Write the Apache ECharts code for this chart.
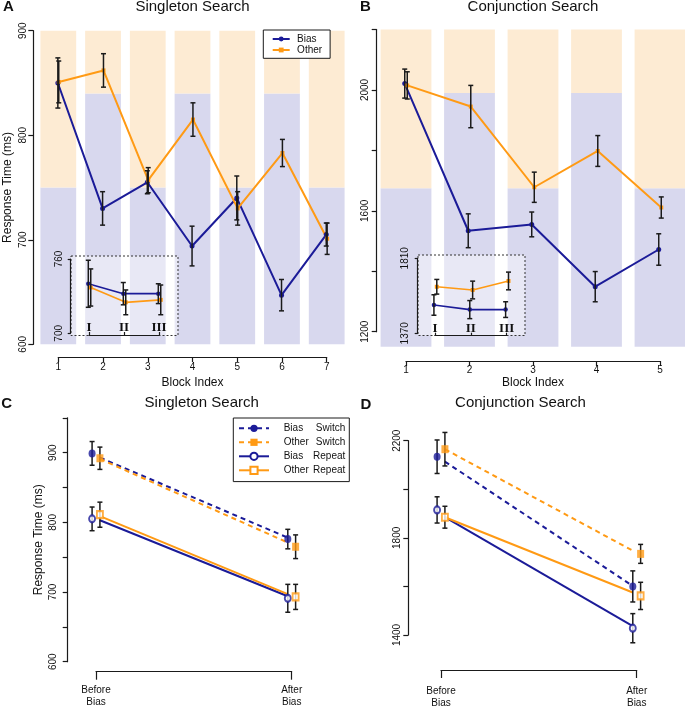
<!DOCTYPE html>
<html><head><meta charset="utf-8">
<script src="https://cdn.jsdelivr.net/npm/echarts@6/dist/echarts.min.js"></script>
<style>html,body{margin:0;padding:0;background:#fff}#c{width:685px;height:707px}</style>
</head><body><div id="c"></div>
<script>
// ================= DATA =================
// Panel A (Singleton Search, by block)
const blocksA = [1, 2, 3, 4, 5, 6, 7];
const biasA = [850, 730, 755, 694, 740, 647, 705];
const biasErrA = [24, 16, 11, 19, 21, 15, 11];
const otherA = [851, 862, 757, 815, 730, 783, 701];
const otherErrA = [20, 16, 12, 16, 16, 13, 15];
const blueTopA = [750, 840, 750, 840, 750, 840, 750];   // background split per block
const bandA = [600, 900];                                // background extent
const yLabelsA = [600, 700, 800, 900];
// Panel A inset
const insetCats = ['I', 'II', 'III'];
const insetBiasA = [740, 732, 732];
const insetBiasErrA = [19, 9, 8];
const insetOtherA = [737, 725, 727];
const insetOtherErrA = [15, 10, 12];
const insetTicksA = [700, 760];

// Panel B (Conjunction Search, by block)
const blocksB = [1, 2, 3, 4, 5];
const biasB = [2021, 1534, 1555, 1349, 1472];
const biasErrB = [48, 56, 41, 50, 52];
const otherB = [2015, 1945, 1678, 1798, 1611];
const otherErrB = [45, 70, 50, 51, 35];
const blueTopB = [1675, 1990, 1675, 1990, 1675];
const bandB = [1150, 2200];
const yLabelsB = [1200, 1600, 2000];
// Panel B inset
const insetBiasB = [1536, 1509, 1509];
const insetBiasErrB = [60, 53, 46];
const insetOtherB = [1643, 1624, 1677];
const insetOtherErrB = [43, 52, 52];
const insetTicksB = [1370, 1810];

// Panels C and D (Before / After bias)
const phases = ['Before\nBias', 'After\nBias'];
const conditions = ['Bias Switch', 'Other Switch', 'Bias Repeat', 'Other Repeat'];
// C: means, errors, fitted line ends
const biasSwitchC = [899, 776],  biasSwitchErrC = [17, 14],  biasSwitchLineC = [893, 778];
const otherSwitchC = [892, 765], otherSwitchErrC = [16, 17], otherSwitchLineC = [891, 771];
const biasRepeatC = [805, 691],  biasRepeatErrC = [17, 20],  biasRepeatLineC = [803, 694];
const otherRepeatC = [811, 693], otherRepeatErrC = [18, 18], otherRepeatLineC = [809, 697];
const yLabelsC = [600, 700, 800, 900];
// D
const biasSwitchD = [2134, 1600],  biasSwitchErrD = [69, 64],  biasSwitchLineD = [2114, 1602];
const otherSwitchD = [2165, 1734], otherSwitchErrD = [69, 39], otherSwitchLineD = [2165, 1747];
const biasRepeatD = [1915, 1428],  biasRepeatErrD = [54, 60],  biasRepeatLineD = [1885, 1437];
const otherRepeatD = [1885, 1561], otherRepeatErrD = [45, 56], otherRepeatLineD = [1885, 1575];
const yLabelsD = [1400, 1800, 2200];

// ================= STYLE =================
const FONT = '"Liberation Sans", Arial, Helvetica, sans-serif';
const SERIF = '"Liberation Serif", "DejaVu Serif", serif';
const BLUE = '#1b1b98', ORANGE = '#ff9a14', INK = '#1a1a1a';
const BG_BLUE = '#d8d8ee', BG_ORANGE = '#fdebd3';
const DASH = [5, 4];
const dodgeA = 0.01, dodgeB = 0.02, dodgeCD = 0.02;
const inDodgeA = [-0.02, 0.05], inDodgeB = [-0.03, 0.05];

// ================= HELPERS =================
function bgSeries(ax, xs, tops, band, w) {
  return {
    type: 'custom', xAxisIndex: ax, yAxisIndex: ax, z: 0, clip: false, silent: true,
    encode: { x: 0, y: 1 },
    data: xs.map((x, i) => [x, tops[i]]),
    renderItem: function (params, api) {
      const x = api.value(0), t = api.value(1);
      const bw = api.size([w, 0])[0];
      const lo = api.coord([x, band[0]]), mid = api.coord([x, t]), hi = api.coord([x, band[1]]);
      const left = lo[0] - bw / 2;
      return { type: 'group', children: [
        { type: 'rect', shape: { x: left, y: mid[1], width: bw, height: lo[1] - mid[1] }, style: { fill: BG_BLUE } },
        { type: 'rect', shape: { x: left, y: hi[1], width: bw, height: mid[1] - hi[1] }, style: { fill: BG_ORANGE } }
      ] };
    }
  };
}
function errSeries(ax, xs, vals, errs, z, cap, lw) {
  return {
    type: 'custom', xAxisIndex: ax, yAxisIndex: ax, z: z, clip: false, silent: true,
    encode: { x: 0, y: 1 },
    data: xs.map((x, i) => [x, vals[i], errs[i]]),
    renderItem: function (params, api) {
      const x = api.value(0), v = api.value(1), e = api.value(2);
      const t = api.coord([x, v + e]), b = api.coord([x, v - e]);
      const st = { stroke: INK, lineWidth: lw };
      return { type: 'group', children: [
        { type: 'line', shape: { x1: t[0], y1: t[1], x2: b[0], y2: b[1] }, style: st },
        { type: 'line', shape: { x1: t[0] - cap, y1: t[1], x2: t[0] + cap, y2: t[1] }, style: st },
        { type: 'line', shape: { x1: b[0] - cap, y1: b[1], x2: b[0] + cap, y2: b[1] }, style: st }
      ] };
    }
  };
}
function lineSeries(name, ax, xs, vals, color, symbol, size, width, type, z) {
  return {
    name: name, type: 'line', xAxisIndex: ax, yAxisIndex: ax, z: z || 2, clip: false,
    data: xs.map((x, i) => [x, vals[i]]),
    symbol: symbol, symbolSize: size, showSymbol: true, color: color,
    itemStyle: { color: color }, lineStyle: { color: color, width: width, type: type || 'solid' }
  };
}
const lbl = { fontFamily: FONT, fontSize: 10, color: '#111' };
function yAx(grid, min, max, interval, offset, margin, shown, extra) {
  return Object.assign({
    gridIndex: grid, type: 'value', min: min, max: max, interval: interval, offset: offset,
    axisLine: { show: true, onZero: false, lineStyle: { color: INK, width: 1.2 } },
    axisTick: { show: true, length: 5, lineStyle: { color: INK, width: 1.2 } },
    splitLine: { show: false },
    axisLabel: Object.assign({ rotate: 90, margin: margin, showMinLabel: true, showMaxLabel: true,
      formatter: v => (shown.indexOf(v) >= 0 ? String(v) : '') }, lbl)
  }, extra || {});
}
function xAx(grid, min, max, interval, offset, margin, fmt, extra) {
  return Object.assign({
    gridIndex: grid, type: 'value', min: min, max: max, interval: interval, offset: offset,
    axisLine: { show: true, onZero: false, lineStyle: { color: INK, width: 1.2 } },
    axisTick: { show: true, length: 5, lineStyle: { color: INK, width: 1.2 } },
    splitLine: { show: false },
    axisLabel: Object.assign({ margin: margin, showMinLabel: true, showMaxLabel: true, formatter: fmt }, lbl)
  }, extra || {});
}
const insetX = (grid, off) => xAx(grid, 1, 3, 1, off, 1, v => insetCats[v - 1] || '', {
  z: 5,
  axisTick: { show: true, inside: true, length: 3, lineStyle: { color: INK, width: 1.2 } },
  axisLabel: { inside: true, margin: 1, fontFamily: SERIF, fontWeight: 'bold', fontSize: 13, color: '#111',
    showMinLabel: true, showMaxLabel: true, formatter: v => insetCats[v - 1] || '' }
});
const nameStyle = { fontFamily: FONT, fontSize: 12, color: '#111' };

// ================= SERIES =================
const xs = (arr, d) => arr.map(v => v + d);
const cdX = [0, 1];
const series = [];
// A main lines (first so legend uses them)
series.push(lineSeries('Bias', 0, xs(blocksA, -dodgeA), biasA, BLUE, 'circle', 5, 2));
series.push(lineSeries('Other', 0, xs(blocksA, dodgeA), otherA, ORANGE, 'rect', 4, 2));
// C lines
function cdLines(ax, L) {
  const lx = [cdX[0] + dodgeCD, cdX[1] - dodgeCD];
  series.push(Object.assign(lineSeries('Bias Switch', ax, lx, L[0], BLUE, 'circle', 7, 2, DASH), { showSymbol: false }));
  series.push(Object.assign(lineSeries('Other Switch', ax, lx, L[1], ORANGE, 'rect', 7, 2, DASH), { showSymbol: false }));
  series.push(Object.assign(lineSeries('Bias Repeat', ax, lx, L[2], BLUE, 'emptyCircle', 7, 2), { showSymbol: false }));
  series.push(Object.assign(lineSeries('Other Repeat', ax, lx, L[3], ORANGE, 'emptyRect', 7, 2), { showSymbol: false }));
}
cdLines(4, [biasSwitchLineC, otherSwitchLineC, biasRepeatLineC, otherRepeatLineC]);
cdLines(5, [biasSwitchLineD, otherSwitchLineD, biasRepeatLineD, otherRepeatLineD]);

// backgrounds
series.push(bgSeries(0, blocksA, blueTopA, bandA, 0.8));
series.push(bgSeries(2, blocksB, blueTopB, bandB, 0.8));
// A error bars
series.push(errSeries(0, xs(blocksA, -dodgeA), biasA, biasErrA, 3, 2.5, 1.5));
series.push(errSeries(0, xs(blocksA, dodgeA), otherA, otherErrA, 3, 2.5, 1.5));
// B lines + error bars
series.push(lineSeries('Bias', 2, xs(blocksB, -dodgeB), biasB, BLUE, 'circle', 5, 2));
series.push(lineSeries('Other', 2, xs(blocksB, dodgeB), otherB, ORANGE, 'rect', 4, 2));
series.push(errSeries(2, xs(blocksB, -dodgeB), biasB, biasErrB, 3, 2.5, 1.5));
series.push(errSeries(2, xs(blocksB, dodgeB), otherB, otherErrB, 3, 2.5, 1.5));
// insets
const inX = [1, 2, 3];
series.push(lineSeries('Bias', 1, xs(inX, inDodgeA[0]), insetBiasA, BLUE, 'circle', 4.5, 1.6, 'solid', 6));
series.push(lineSeries('Other', 1, xs(inX, inDodgeA[1]), insetOtherA, ORANGE, 'rect', 4, 1.6, 'solid', 6));
series.push(errSeries(1, xs(inX, inDodgeA[0]), insetBiasA, insetBiasErrA, 7, 2.5, 1.5));
series.push(errSeries(1, xs(inX, inDodgeA[1]), insetOtherA, insetOtherErrA, 7, 2.5, 1.5));
series.push(lineSeries('Bias', 3, xs(inX, inDodgeB[0]), insetBiasB, BLUE, 'circle', 4.5, 1.6, 'solid', 6));
series.push(lineSeries('Other', 3, xs(inX, inDodgeB[1]), insetOtherB, ORANGE, 'rect', 4, 1.6, 'solid', 6));
series.push(errSeries(3, xs(inX, inDodgeB[0]), insetBiasB, insetBiasErrB, 7, 2.5, 1.5));
series.push(errSeries(3, xs(inX, inDodgeB[1]), insetOtherB, insetOtherErrB, 7, 2.5, 1.5));
// C / D markers + error bars
function cdPoints(ax, M, E) {
  const spec = [[BLUE, 'circle', -1, [7, 8]], [ORANGE, 'rect', 1, [7, 8]], [BLUE, 'emptyCircle', -1, [6, 7]], [ORANGE, 'emptyRect', 1, [6, 7]]];
  spec.forEach((s, k) => {
    const px = cdX.map(x => x + s[2] * dodgeCD);
    series.push(errSeries(ax, px, M[k], E[k], 3, 2.5, 1.5));
    series.push({ name: conditions[k], type: 'scatter', xAxisIndex: ax, yAxisIndex: ax, z: 4, clip: false,
      data: px.map((x, i) => [x, M[k][i]]), symbol: s[1], symbolSize: s[3], color: s[0],
      itemStyle: { color: s[0], borderWidth: 1.8 } });
  });
}
cdPoints(4, [biasSwitchC, otherSwitchC, biasRepeatC, otherRepeatC],
  [biasSwitchErrC, otherSwitchErrC, biasRepeatErrC, otherRepeatErrC]);
cdPoints(5, [biasSwitchD, otherSwitchD, biasRepeatD, otherRepeatD],
  [biasSwitchErrD, otherSwitchErrD, biasRepeatErrD, otherRepeatErrD]);

// ================= OPTION =================
const gridBase = { outerBoundsMode: 'none', containLabel: false };
const option = {
  animation: false,
  backgroundColor: '#fff',
  textStyle: { fontFamily: FONT },
  grid: [
    Object.assign({ left: 58.3, top: 30.7, width: 268.4, height: 313.6 }, gridBase),
    Object.assign({ left: 89, top: 259, width: 70, height: 74.3 }, gridBase),
    Object.assign({ left: 406, top: 29.5, width: 254, height: 302.2 }, gridBase),
    Object.assign({ left: 435, top: 258.3, width: 71.7, height: 75 }, gridBase),
    Object.assign({ left: 96, top: 417.85, width: 195.7, height: 243.85 }, gridBase),
    Object.assign({ left: 441, top: 440.7, width: 195.7, height: 194.3 }, gridBase)
  ],
  xAxis: [
    xAx(0, 1, 7, 1, 12.7, 5, v => String(v), { name: 'Block Index', nameLocation: 'middle', nameGap: 20, nameTextStyle: nameStyle }),
    insetX(1, 1.7),
    xAx(2, 1, 5, 1, 29.3, 4.5, v => String(v), { name: 'Block Index', nameLocation: 'middle', nameGap: 16, nameTextStyle: nameStyle }),
    insetX(3, 2.4),
    xAx(4, 0, 1, 1, 10, 13, v => phases[v] || '', { axisTick: { show: true, length: 8, lineStyle: { color: INK, width: 1.2 } },
      axisLabel: Object.assign({ margin: 13, lineHeight: 12, showMinLabel: true, showMaxLabel: true, formatter: v => phases[v] || '' }, lbl) }),
    xAx(5, 0, 1, 1, 35, 15, v => phases[v] || '', { axisTick: { show: true, length: 8, lineStyle: { color: INK, width: 1.2 } },
      axisLabel: Object.assign({ margin: 15, lineHeight: 12, showMinLabel: true, showMaxLabel: true, formatter: v => phases[v] || '' }, lbl) })
  ],
  yAxis: [
    yAx(0, 600, 900, 100, 25, 4.8, yLabelsA, { name: 'Response Time (ms)', nameLocation: 'middle', nameRotate: 90, nameGap: 20, nameTextStyle: nameStyle }),
    yAx(1, 700, 760, 60, 18.3, 6.9, insetTicksA, { z: 5, axisTick: { show: true, length: 3, lineStyle: { color: INK, width: 1.2 } } }),
    yAx(2, 1200, 2200, 200, 29.3, 6.2, yLabelsB),
    yAx(3, 1370, 1810, 440, 17.3, 7.9, insetTicksB, { z: 5, axisTick: { show: true, length: 3, lineStyle: { color: INK, width: 1.2 } } }),
    yAx(4, 600, 950, 50, 28.3, 9.7, yLabelsC, { name: 'Response Time (ms)', nameLocation: 'middle', nameRotate: 90, nameGap: 23, nameTextStyle: nameStyle }),
    yAx(5, 1400, 2200, 200, 32.7, 5.8, yLabelsD)
  ],
  legend: [
    { data: ['Bias', 'Other'], left: 263.3, top: 30, orient: 'vertical', selectedMode: false,
      itemWidth: 17, itemHeight: 6, itemGap: 0, padding: [3.5, 8, 2.8, 8.4],
      borderColor: INK, borderWidth: 1, backgroundColor: '#fff', z: 8,
      formatter: n => '{g| }{n|' + n + '}',
      textStyle: { fontFamily: FONT, fontSize: 10, lineHeight: 11, color: '#111',
        rich: { g: { width: 2.4, fontSize: 10, lineHeight: 11 }, n: { fontSize: 10, lineHeight: 11, fontFamily: FONT } } } },
    { data: conditions, left: 233.3, top: 418, orient: 'vertical', selectedMode: false,
      itemWidth: 30, itemHeight: 9, itemGap: 0, padding: [3.3, 4, 4.3, 4.7],
      borderColor: INK, borderWidth: 1, backgroundColor: '#fff', z: 8,
      formatter: n => { const p = n.split(' '); return '{g| }{n|' + p[0] + '}{s|' + p[1] + '}'; },
      textStyle: { fontFamily: FONT, fontSize: 10, lineHeight: 14, color: '#111',
        rich: { g: { width: 9.7, fontSize: 10, lineHeight: 14 },
                n: { width: 29.6, fontSize: 10, lineHeight: 14, fontFamily: FONT },
                s: { width: 32, align: 'right', fontSize: 10, lineHeight: 14, fontFamily: FONT } } } }
  ],
  graphic: [
    { type: 'rect', z: 1, silent: true, shape: { x: 71, y: 256, width: 107, height: 79.5 },
      style: { fill: 'rgba(255,255,255,0.42)', stroke: '#333', lineWidth: 1, lineDash: [2, 2] } },
    { type: 'rect', z: 1, silent: true, shape: { x: 418, y: 255, width: 107, height: 80.5 },
      style: { fill: 'rgba(255,255,255,0.42)', stroke: '#333', lineWidth: 1, lineDash: [2, 2] } },
    { type: 'text', x: 192.5, y: 7, style: { text: 'Singleton Search', font: '15px ' + FONT, fill: '#111', align: 'center', verticalAlign: 'middle' } },
    { type: 'text', x: 533, y: 7, style: { text: 'Conjunction Search', font: '15px ' + FONT, fill: '#111', align: 'center', verticalAlign: 'middle' } },
    { type: 'text', x: 201.7, y: 402.7, style: { text: 'Singleton Search', font: '15px ' + FONT, fill: '#111', align: 'center', verticalAlign: 'middle' } },
    { type: 'text', x: 520.5, y: 402.7, style: { text: 'Conjunction Search', font: '15px ' + FONT, fill: '#111', align: 'center', verticalAlign: 'middle' } },
    { type: 'text', x: 8.5, y: 7, style: { text: 'A', font: 'bold 15px ' + FONT, fill: '#111', align: 'center', verticalAlign: 'middle' } },
    { type: 'text', x: 365.5, y: 7, style: { text: 'B', font: 'bold 15px ' + FONT, fill: '#111', align: 'center', verticalAlign: 'middle' } },
    { type: 'text', x: 6.7, y: 404, style: { text: 'C', font: 'bold 15px ' + FONT, fill: '#111', align: 'center', verticalAlign: 'middle' } },
    { type: 'text', x: 366, y: 405, style: { text: 'D', font: 'bold 15px ' + FONT, fill: '#111', align: 'center', verticalAlign: 'middle' } }
  ],
  series: series
};
const chart = echarts.init(document.getElementById('c'), null, { renderer: 'canvas', width: 685, height: 707 });
chart.setOption(option);
</script>
</body></html>
